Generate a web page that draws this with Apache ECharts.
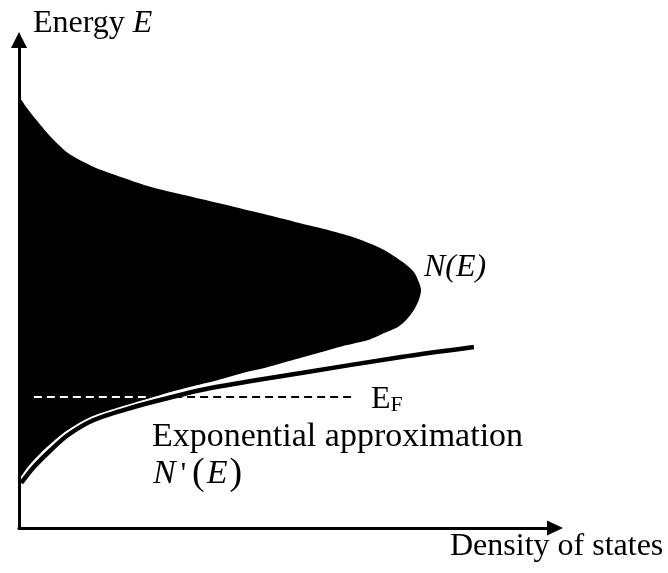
<!DOCTYPE html>
<html>
<head>
<meta charset="utf-8">
<script src="https://cdn.jsdelivr.net/npm/echarts@6/dist/echarts.min.js"></script>
<style>
  html, body { margin: 0; padding: 0; background: #fff; }
  #chart { width: 668px; height: 573px; }
</style>
</head>
<body>
<div id="chart"></div>
<script>
// Density of states N(E): outline from the upper tail, round the peak, back to the lower tail
const dosDensity = [0, 0.13, 0.27, 0.58, 0.89, 1.36, 1.85, 2.4, 3.0, 3.62, 4.22, 4.82, 5.13, 5.62, 6.04,
                    6.27, 6.64, 7.0, 7.18, 7.27, 7.31, 7.27, 7.18, 7.04, 6.89, 6.64, 6.35, 5.89, 5.44,
                    4.98, 4.53, 4.07, 3.62, 3.18, 2.76, 2.4, 1.95, 1.49, 0.89, 0.45, 0.16, 0.04, 0];
const dosEnergy  = [8.6, 8.42, 8.22, 7.82, 7.5, 7.22, 7.02, 6.82, 6.66, 6.5, 6.34, 6.18, 6.09, 5.96, 5.83,
                    5.74, 5.56, 5.3, 5.12, 4.92, 4.76, 4.56, 4.36, 4.16, 4.02, 3.9, 3.76, 3.64, 3.5,
                    3.36, 3.22, 3.1, 2.96, 2.84, 2.72, 2.6, 2.44, 2.26, 1.96, 1.56, 1.22, 1.02, 0.96];

// Exponential approximation N'(E) of the lower tail
const expDensity = [0.04, 0.27, 0.58, 0.89, 1.36, 2.09, 2.71, 3.31, 4.22, 5.13, 6.95, 8.27];
const expEnergy  = [0.9, 1.22, 1.56, 1.86, 2.16, 2.42, 2.6, 2.76, 2.94, 3.1, 3.42, 3.62];

// Fermi level E_F: white dashes across the filled band, black dashes outside it
const fermiEnergy = 2.62;
const fermiInside = [0.27, 2.4];
const fermiOutside = [2.82, 6.04];

// Axis extents (arbitrary units)
const densityMax = 9.745;
const energyMax = 9.76;

const serif = '"Liberation Serif", "Times New Roman", serif';

const pairs = (xs, ys) => xs.map((x, i) => [x, ys[i]]);

const chart = echarts.init(document.getElementById('chart'), null, { renderer: 'canvas' });

chart.setOption({
  animation: false,
  backgroundColor: '#ffffff',
  grid: { left: 19, right: 113, top: 40, bottom: 45 },
  xAxis: {
    type: 'value', min: 0, max: densityMax, z: 10,
    axisLine: { show: true, onZero: false, symbol: ['none', 'triangle'], symbolSize: [15, 16],
                lineStyle: { color: '#000', width: 3 } },
    axisTick: { show: false }, axisLabel: { show: false }, splitLine: { show: false }
  },
  yAxis: {
    type: 'value', min: 0, max: energyMax, z: 10,
    axisLine: { show: true, onZero: false, symbol: ['none', 'triangle'], symbolSize: [16, 16],
                lineStyle: { color: '#000', width: 3 } },
    axisTick: { show: false }, axisLabel: { show: false }, splitLine: { show: false }
  },
  series: [
    {
      name: 'N(E)',
      type: 'custom',
      data: pairs(dosDensity, dosEnergy),
      z: 1,
      renderItem: (params, api) => {
        if (params.dataIndex !== 0) return null;
        const pts = dosDensity.map((d, i) => api.coord([d, dosEnergy[i]]));
        return { type: 'polygon', shape: { points: pts, smooth: 0.25 }, style: { fill: '#000' } };
      }
    },
    {
      name: 'halo',
      type: 'line',
      data: pairs(expDensity, expEnergy),
      smooth: 0.3, showSymbol: false, symbol: 'none', z: 3,
      lineStyle: { color: '#fff', width: 8, cap: 'butt' }
    },
    {
      name: "N'(E)",
      type: 'line',
      data: pairs(expDensity, expEnergy),
      smooth: 0.3, showSymbol: false, symbol: 'none', z: 4,
      lineStyle: { color: '#000', width: 4.5 }
    },
    {
      name: 'E_F inside',
      type: 'line',
      data: fermiInside.map(x => [x, fermiEnergy]),
      showSymbol: false, symbol: 'none', z: 5,
      lineStyle: { color: '#fff', width: 2, type: [8, 5] }
    },
    {
      name: 'E_F outside',
      type: 'line',
      data: fermiOutside.map(x => [x, fermiEnergy]),
      showSymbol: false, symbol: 'none', z: 5,
      lineStyle: { color: '#000', width: 2, type: [8, 5] }
    }
  ],
  graphic: [
    {
      type: 'text', x: 33, y: 24, z: 10,
      style: {
        text: '{n|Energy }{i|E}', verticalAlign: 'middle', align: 'left',
        rich: {
          n: { font: '32px ' + serif, fill: '#000' },
          i: { font: 'italic 32px ' + serif, fill: '#000' }
        }
      }
    },
    {
      type: 'text', x: 424, y: 268, z: 10,
      style: { text: 'N(E)', font: 'italic 32px ' + serif, fill: '#000', verticalAlign: 'middle' }
    },
    {
      type: 'text', x: 371, y: 400, z: 10,
      style: {
        text: '{n|E}{s|F}', verticalAlign: 'middle',
        rich: {
          n: { font: '32px ' + serif, fill: '#000' },
          s: { font: '22px ' + serif, fill: '#000', padding: [10, 0, 0, 0] }
        }
      }
    },
    {
      type: 'text', x: 152, y: 437, z: 10,
      style: { text: 'Exponential approximation', font: '34px ' + serif, fill: '#000', verticalAlign: 'middle' }
    },
    {
      type: 'text', x: 153, y: 474, z: 10,
      style: {
        text: "{i|N}{a|'}{p|(}{i|E}{p|)}", verticalAlign: 'middle',
        rich: {
          i: { font: 'italic 34px ' + serif, fill: '#000' },
          a: { font: '30px ' + serif, fill: '#000', padding: [0, 4, 0, 5] },
          p: { font: '38px ' + serif, fill: '#000', padding: [0, 2, 0, 2] }
        }
      }
    },
    {
      type: 'text', x: 450, y: 547, z: 10,
      style: { text: 'Density of states', font: '32px ' + serif, fill: '#000', verticalAlign: 'middle' }
    }
  ]
});
</script>
</body>
</html>
